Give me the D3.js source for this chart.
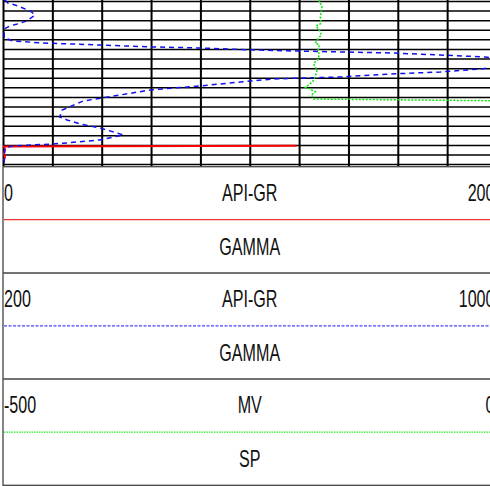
<!DOCTYPE html>
<html>
<head>
<meta charset="utf-8">
<script src="https://cdn.jsdelivr.net/npm/d3@7"></script>
<style>
  body { margin: 0; background: #fff; }
  svg { display: block; }
</style>
</head>
<body>
<div id="viz"></div>
<script>
// depth grid, one line per foot
const gridDepths = d3.range(1000, 1018)
const divisions = d3.range(0, 11)

// track headers
const trackUnits = ['API-GR', 'API-GR', 'MV']
const trackNames = ['GAMMA', 'GAMMA', 'SP']
const trackMin = [0, 200, -500]
const trackMax = [200, 1000, 0]

// GAMMA 0-200
const gr1Depth = [1015.08, 1015.16, 1015.5, 1015.9, 1016.3, 1016.58]
const gr1Values = [119, 0.4, 0.8, 0.4, 0.8, 0.4]

// GAMMA 200-1000
const gr2Depth = [999.9, 1000.21, 1000.52, 1001.04, 1001.46, 1002.08, 1002.40, 1002.61, 1002.92,
  1003.85, 1004.17, 1004.38, 1004.59, 1004.79, 1004.90, 1005.11, 1005.21, 1005.31, 1005.42,
  1005.63, 1005.84, 1006.46, 1007.09, 1007.40, 1007.61, 1007.92, 1008.02, 1008.13, 1008.44,
  1008.85, 1009.27, 1010.10, 1010.42, 1011.36, 1012.09, 1012.40, 1012.82, 1013.23, 1013.96,
  1014.48, 1014.79, 1014.90, 1015.11, 1015.32, 1016.25, 1016.88, 1017.2]
const gr2Values = [203, 208, 224, 244, 252, 239, 223, 211, 202,
  202, 216, 265, 357, 439, 520, 609, 669, 747, 828,
  909, 982, 1039, 974, 909, 828, 747, 693, 638, 585,
  520, 439, 362, 330, 296, 292, 304, 325, 357, 395,
  357, 304, 281, 216, 203, 202, 202, 202]

// SP -500-0
const spDepth = [999.9, 1000.08, 1000.53, 1001.12, 1001.64, 1002.33, 1002.61, 1003.20, 1003.55,
  1004.07, 1004.41, 1004.59, 1005.11, 1005.63, 1006.08, 1006.33, 1006.57, 1007.20, 1007.89,
  1008.41, 1008.76, 1009.00, 1009.21, 1009.46, 1009.80, 1010.22, 1010.40]
const spValues = [-179, -179.5, -176.8, -177.5, -178.5, -177.5, -182.9, -178.5, -177.5,
  -181.8, -183.6, -179.5, -180.8, -179.5, -180.8, -183.6, -185.3, -181.8, -183.6,
  -186.3, -190.4, -193.7, -188.6, -183.6, -187.6, -185.3, 0]

const curveColors = ['#ff0000', '#1010ee', '#11e611']
const curveDash = [null, '5,4', '2,1.5']
const headerColors = ['#ee3333', '#4444ff', '#22ee22']
const headerDash = [null, '3,1.5', '1.5,1']

let dimensions = {
  width: 490,
  height: 486,
  left: 3,
  right: 496.5,
  plotTop: 0,
  plotBottom: 166,
  headerTop: 166.7,
  headerBottom: 485.3,
}

const wrapper = d3.select('#viz')
  .append('svg')
  .attr('width', dimensions.width)
  .attr('height', dimensions.height)

// Scales
const yScale = d3.scaleLinear()
  .domain([999.9, 1017.2])
  .range([dimensions.plotTop, dimensions.plotBottom])

const divScale = d3.scaleLinear()
  .domain([0, 10])
  .range([dimensions.left, dimensions.right])

const trackScales = trackMin.map((m, i) => d3.scaleLinear()
  .domain([m, trackMax[i]])
  .range([dimensions.left, dimensions.right]))

// Grid
const hGrid = wrapper.append('g')
  .attr('transform', `translate(${dimensions.left},0)`)
  .call(d3.axisLeft(yScale).tickValues(gridDepths)
    .tickSize(-(dimensions.right - dimensions.left)).tickFormat(''))
hGrid.select('.domain').remove()
hGrid.selectAll('line').attr('stroke', '#000').attr('stroke-width', 1.5)

const vGrid = wrapper.append('g')
  .call(d3.axisTop(divScale).tickValues(divisions)
    .tickSize(-(dimensions.plotBottom - dimensions.plotTop)).tickFormat(''))
vGrid.select('.domain').remove()
vGrid.selectAll('line').attr('stroke', '#000').attr('stroke-width', 2)

// Curves
wrapper.append('clipPath').attr('id', 'plotClip')
  .append('rect')
  .attr('x', dimensions.left)
  .attr('y', dimensions.plotTop)
  .attr('width', dimensions.right - dimensions.left)
  .attr('height', dimensions.plotBottom - dimensions.plotTop)

const curves = [
  {depth: gr1Depth, values: gr1Values},
  {depth: gr2Depth, values: gr2Values},
  {depth: spDepth, values: spValues},
]

const curveGroup = wrapper.append('g').attr('clip-path', 'url(#plotClip)')

curves.forEach((c, i) => {
  const lineGenerator = d3.line()
    .x((d, j) => trackScales[i](c.values[j]))
    .y(d => yScale(d))
  curveGroup.append('path')
    .attr('d', lineGenerator(c.depth))
    .attr('fill', 'none')
    .attr('stroke', curveColors[i])
    .attr('stroke-width', i == 0 ? 2 : 1.5)
    .attr('stroke-dasharray', curveDash[i])
})

// Header
const band = d3.scaleBand()
  .domain(d3.range(trackNames.length))
  .range([dimensions.headerTop, dimensions.headerBottom])

const header = wrapper.append('g')

header.append('rect')
  .attr('x', dimensions.left)
  .attr('y', dimensions.headerTop)
  .attr('width', dimensions.right - dimensions.left)
  .attr('height', dimensions.headerBottom - dimensions.headerTop)
  .attr('fill', 'none')
  .attr('stroke', '#444')
  .attr('stroke-width', 1.3)

const center = (dimensions.left + dimensions.right) / 2

function label(g, x, y, txt, anchor) {
  g.append('text')
    .attr('transform', `translate(${x},${y}) scale(0.7,1)`)
    .attr('text-anchor', anchor)
    .style('font-family', '"Liberation Sans", Arial, sans-serif')
    .style('font-size', '23px')
    .style('fill', '#111')
    .text(txt)
}

trackNames.forEach((name, i) => {
  const top = band(i)
  if (i > 0) {
    header.append('line')
      .attr('x1', dimensions.left).attr('x2', dimensions.right)
      .attr('y1', top).attr('y2', top)
      .attr('stroke', '#444').attr('stroke-width', 1.5)
  }
  header.append('line')
    .attr('x1', dimensions.left + 1).attr('x2', dimensions.right)
    .attr('y1', top + 53).attr('y2', top + 53)
    .attr('stroke', headerColors[i])
    .attr('stroke-width', 1.2)
    .attr('stroke-dasharray', headerDash[i])

  label(header, dimensions.left + 1, top + 34, trackMin[i], 'start')
  label(header, dimensions.right - 2, top + 34, trackMax[i], 'end')
  label(header, center, top + 34, trackUnits[i], 'middle')
  label(header, center, top + 88, name, 'middle')
})
</script>
</body>
</html>
